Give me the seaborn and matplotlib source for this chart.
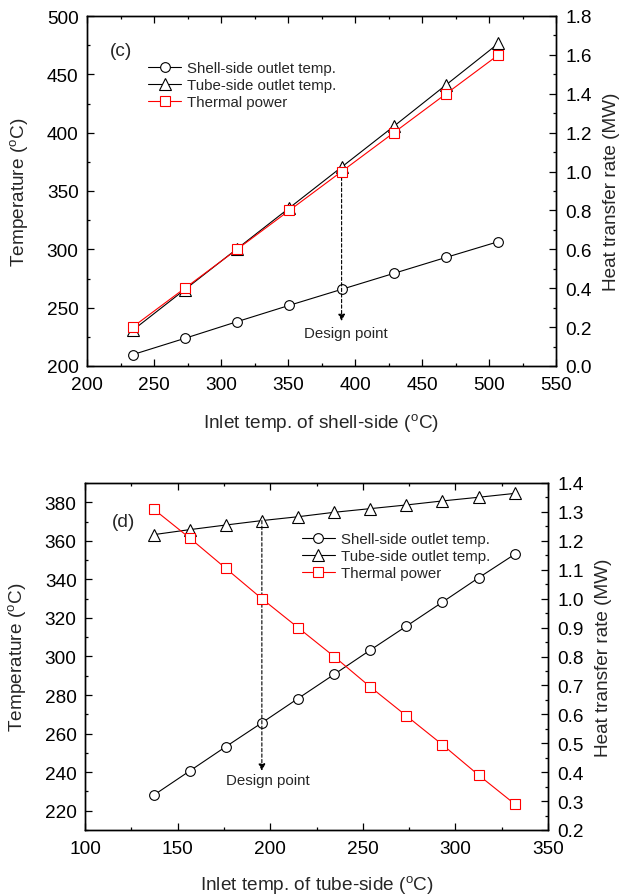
import matplotlib
matplotlib.use("Agg")
import matplotlib.pyplot as plt
import seaborn as sns
from matplotlib.ticker import MultipleLocator, FormatStrFormatter

# ---- panel (c): varying shell-side inlet temperature ----
shell_inlet = [234, 273, 312, 351, 390, 429, 468, 507]
c_shell_out = [209.7, 223.7, 238.0, 252.0, 265.7, 279.4, 293.1, 306.6]
c_tube_out = [230.5, 265.5, 300.5, 335.5, 370.5, 405.5, 441.0, 476.5]
c_power = [0.2, 0.4, 0.6, 0.8, 1.0, 1.2, 1.4, 1.6]

# ---- panel (d): varying tube-side inlet temperature ----
tube_inlet = [137, 156.5, 176, 195.5, 215, 234.5, 254, 273.5, 293, 312.5, 332]
d_shell_out = [228.0, 240.6, 253.2, 265.6, 278.2, 290.7, 303.3, 315.7, 328.2, 340.8, 353.0]
d_tube_out = [363.2, 365.8, 368.2, 370.5, 372.5, 374.8, 376.7, 378.6, 380.7, 382.6, 384.6]
d_power = [1.31, 1.21, 1.105, 1.0, 0.9, 0.8, 0.695, 0.595, 0.495, 0.39, 0.29]

labels = ["Shell-side outlet temp.", "Tube-side outlet temp.", "Thermal power"]

sns.set_theme(style="ticks")
plt.rcParams["font.family"] = ["Liberation Sans", "DejaVu Sans"]
plt.rcParams["mathtext.fontset"] = "custom"
plt.rcParams["mathtext.rm"] = "Liberation Sans"
plt.rcParams["mathtext.it"] = "Liberation Sans:italic"

FS = 13.7
LEG_FS = 10.8


def style_axes(ax, ax2):
    for a in (ax, ax2):
        for sp in a.spines.values():
            sp.set_linewidth(1.0)
            sp.set_color("black")
    ax.tick_params(which="both", direction="in", top=True, right=False,
                   labelsize=FS, width=0.9, colors="black")
    ax.tick_params(axis="x", pad=7.5)
    ax.tick_params(axis="y", pad=6)
    ax.tick_params(which="major", length=5)
    ax.tick_params(which="minor", length=2.5)
    ax2.tick_params(which="both", direction="in", right=True,
                    labelsize=FS, width=0.9, pad=6.5, colors="black")
    ax2.tick_params(which="major", length=5)
    ax2.tick_params(which="minor", length=2.5)


def draw_panel(fig, rect, x, shell, tube, power, design_idx, tag,
               xlim, ylim, ylim2, ymaj, ymin, y2maj, y2min,
               xlabel, xpad, leg_anchor, tag_pos, arrow_start, arrow_end, text_y):
    ax = fig.add_axes(rect)
    ax2 = ax.twinx()

    sns.lineplot(x=x, y=shell, ax=ax, color="black", linewidth=0.8,
                 marker="o", markersize=7, markerfacecolor="white",
                 markeredgecolor="black", markeredgewidth=0.8, label=labels[0])
    sns.lineplot(x=x, y=tube, ax=ax, color="black", linewidth=0.8,
                 marker="^", markersize=8, markerfacecolor="white",
                 markeredgecolor="black", markeredgewidth=0.8, label=labels[1])
    sns.lineplot(x=x, y=power, ax=ax2, color="red", linewidth=0.8,
                 marker="s", markersize=6.5, markerfacecolor="white",
                 markeredgecolor="red", markeredgewidth=0.8, label=labels[2])

    h1, l1 = ax.get_legend_handles_labels()
    h2, l2 = ax2.get_legend_handles_labels()
    for a in (ax, ax2):
        if a.get_legend() is not None:
            a.get_legend().remove()

    ax.set_xlim(*xlim)
    ax.set_ylim(*ylim)
    ax2.set_ylim(*ylim2)
    ax.xaxis.set_major_locator(MultipleLocator(50))
    ax.xaxis.set_minor_locator(MultipleLocator(25))
    ax.yaxis.set_major_locator(MultipleLocator(ymaj))
    ax.yaxis.set_minor_locator(MultipleLocator(ymin))
    ax2.yaxis.set_major_locator(MultipleLocator(y2maj))
    ax2.yaxis.set_minor_locator(MultipleLocator(y2min))
    ax2.yaxis.set_major_formatter(FormatStrFormatter("%.1f"))

    ax.set_xlabel(xlabel, fontsize=FS, labelpad=xpad)
    ax.set_ylabel(r"Temperature ($^{\rm o}$C)", fontsize=FS, labelpad=12)
    ax2.set_ylabel("Heat transfer rate (MW)", fontsize=FS, labelpad=8)
    style_axes(ax, ax2)

    ax2.legend(h1 + h2, l1 + l2, loc="center left", bbox_to_anchor=leg_anchor,
               frameon=False, fontsize=LEG_FS, handlelength=2.2,
               handletextpad=0.4, labelspacing=0.2, borderpad=0,
               borderaxespad=0)

    ax.text(tag_pos[0], tag_pos[1], tag, transform=ax.transAxes,
            fontsize=FS, ha="left", va="center")

    # design point marker: dashed arrow from the curve down to the label
    xd = x[design_idx]
    ax.annotate("", xy=(xd, arrow_end), xytext=(xd, arrow_start),
                arrowprops=dict(arrowstyle="-|>", color="black", lw=0.8,
                                ls=(0, (3, 2)), shrinkA=0, shrinkB=0,
                                mutation_scale=10))
    ax.text(xd + 3, text_y, "Design point", fontsize=LEG_FS,
            ha="center", va="center")
    return ax, ax2


fig = plt.figure(figsize=(6.19, 8.95), dpi=100)

# (c): arrow starts at the thermal power marker (right axis converted to left axis)
c_start = 200 + c_power[4] / 1.8 * 300
draw_panel(fig, [87 / 619, 1 - 367 / 895, 469 / 619, 350 / 895],
           shell_inlet, c_shell_out, c_tube_out, c_power, 4, "(c)",
           (200, 550), (200, 500), (0.0, 1.8), 50, 25, 0.2, 0.1,
           r"Inlet temp. of shell-side ($^{\rm o}$C)", 13,
           (0.131, 0.802), (0.049, 0.901), c_start, 238.5, 228.5)

draw_panel(fig, [85 / 619, 1 - 831 / 895, 463 / 619, 347 / 895],
           tube_inlet, d_shell_out, d_tube_out, d_power, 3, "(d)",
           (100, 350), (210, 390), (0.2, 1.4), 20, 10, 0.1, 0.05,
           r"Inlet temp. of tube-side ($^{\rm o}$C)", 11.5,
           (0.468, 0.790), (0.058, 0.889), d_tube_out[3], 240.7, 236)

fig.savefig("out.png", dpi=100)
